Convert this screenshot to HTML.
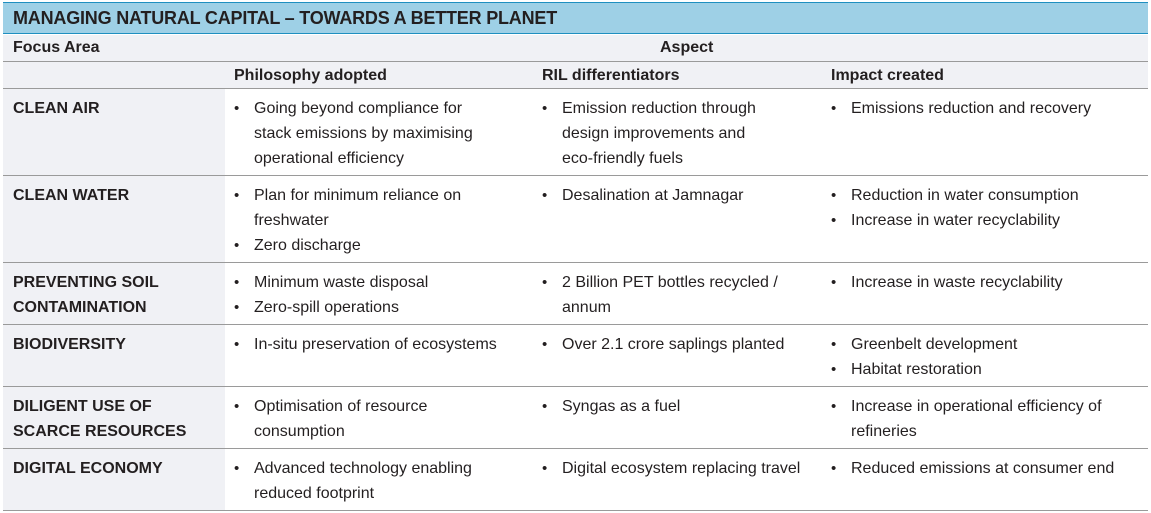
<!DOCTYPE html>
<html><head><meta charset="utf-8"><style>
body{margin:0;width:1151px;height:513px;background:#fff;font-family:"Liberation Sans",sans-serif;color:#231f20;position:relative;overflow:hidden}
.a{position:absolute}
.hd{left:3px;top:2px;width:1145px;height:30px;background:#9ed0e6;border-top:1px solid #1f8fc0;border-bottom:1px solid #1f8fc0}
.hd span{position:absolute;left:10px;top:5px;font-weight:bold;font-size:18px;letter-spacing:-0.2px}
.g{background:#f0f1f5}
.ln{position:absolute;left:3px;width:1145px;height:1px;background:#9a9a9a}
.t{position:absolute;font-size:16px;line-height:25px;white-space:nowrap}
.b{font-weight:bold}
.c{position:absolute;font-size:16px;line-height:25px}
.c div{position:relative;padding-left:20px;white-space:nowrap}
.c div:before{content:"•";position:absolute;left:0;top:0;font-size:15px}
</style></head><body>
<div class="a hd"><span>MANAGING NATURAL CAPITAL – TOWARDS A BETTER PLANET</span></div>
<div class="a g" style="left:3px;top:35px;width:1145px;height:54px"></div>
<div class="a g" style="left:3px;top:89px;width:222px;height:421px"></div>
<div class="ln" style="top:61px"></div>
<div class="ln" style="top:88px"></div>
<div class="ln" style="top:175px"></div>
<div class="ln" style="top:262px"></div>
<div class="ln" style="top:324px"></div>
<div class="ln" style="top:386px"></div>
<div class="ln" style="top:448px"></div>
<div class="ln" style="top:510px"></div>

<div class="t b" style="left:13px;top:35px">Focus Area</div>
<div class="t b" style="left:660px;top:35px">Aspect</div>
<div class="t b" style="left:234px;top:63px">Philosophy adopted</div>
<div class="t b" style="left:542px;top:63px">RIL differentiators</div>
<div class="t b" style="left:831px;top:63px">Impact created</div>

<div class="t b" style="left:13px;top:96px">CLEAN AIR</div>
<div class="c" style="left:234px;top:96px"><div>Going beyond compliance for<br>stack emissions by maximising<br>operational efficiency</div></div>
<div class="c" style="left:542px;top:96px"><div>Emission reduction through<br>design improvements and<br>eco-friendly fuels</div></div>
<div class="c" style="left:831px;top:96px"><div>Emissions reduction and recovery</div></div>

<div class="t b" style="left:13px;top:183px">CLEAN WATER</div>
<div class="c" style="left:234px;top:183px"><div>Plan for minimum reliance on<br>freshwater</div><div>Zero discharge</div></div>
<div class="c" style="left:542px;top:183px"><div>Desalination at Jamnagar</div></div>
<div class="c" style="left:831px;top:183px"><div>Reduction in water consumption</div><div>Increase in water recyclability</div></div>

<div class="t b" style="left:13px;top:270px">PREVENTING SOIL<br>CONTAMINATION</div>
<div class="c" style="left:234px;top:270px"><div>Minimum waste disposal</div><div>Zero-spill operations</div></div>
<div class="c" style="left:542px;top:270px"><div>2 Billion PET bottles recycled /<br>annum</div></div>
<div class="c" style="left:831px;top:270px"><div>Increase in waste recyclability</div></div>

<div class="t b" style="left:13px;top:332px">BIODIVERSITY</div>
<div class="c" style="left:234px;top:332px"><div>In-situ preservation of ecosystems</div></div>
<div class="c" style="left:542px;top:332px"><div>Over 2.1 crore saplings planted</div></div>
<div class="c" style="left:831px;top:332px"><div>Greenbelt development</div><div>Habitat restoration</div></div>

<div class="t b" style="left:13px;top:394px">DILIGENT USE OF<br>SCARCE RESOURCES</div>
<div class="c" style="left:234px;top:394px"><div>Optimisation of resource<br>consumption</div></div>
<div class="c" style="left:542px;top:394px"><div>Syngas as a fuel</div></div>
<div class="c" style="left:831px;top:394px"><div>Increase in operational efficiency of<br>refineries</div></div>

<div class="t b" style="left:13px;top:456px">DIGITAL ECONOMY</div>
<div class="c" style="left:234px;top:456px"><div>Advanced technology enabling<br>reduced footprint</div></div>
<div class="c" style="left:542px;top:456px"><div>Digital ecosystem replacing travel</div></div>
<div class="c" style="left:831px;top:456px"><div>Reduced emissions at consumer end</div></div>
</body></html>
